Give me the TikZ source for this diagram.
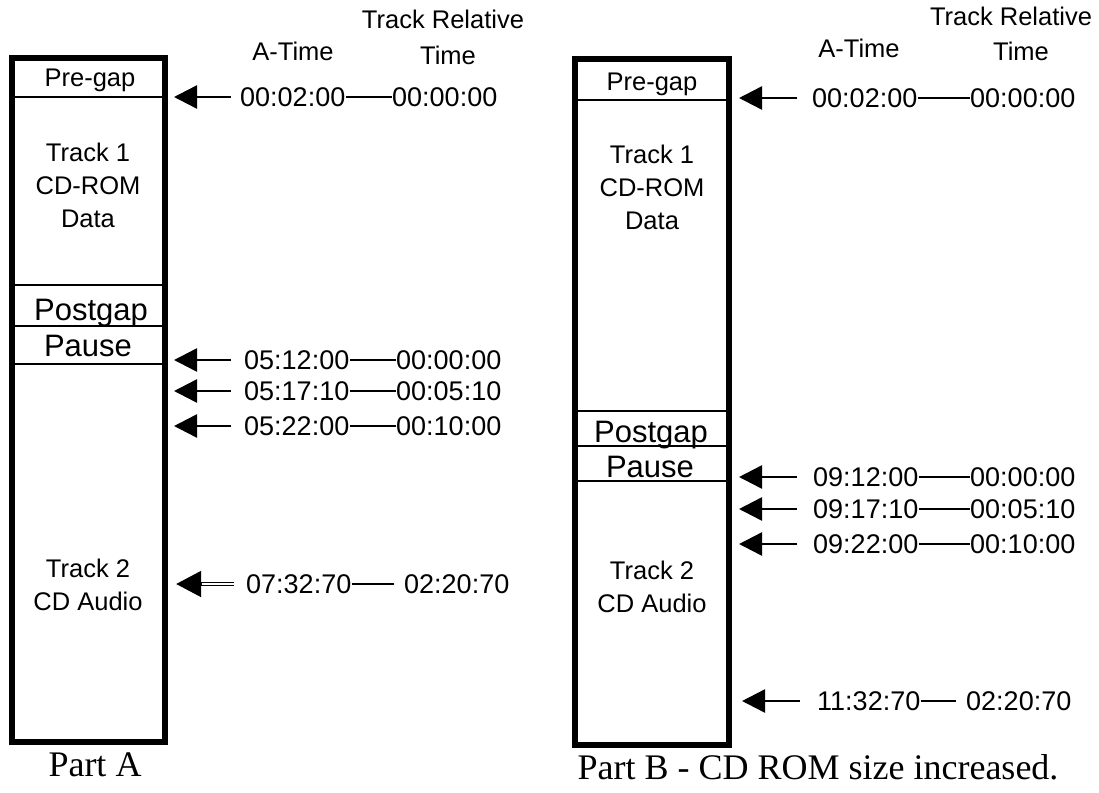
\documentclass[tikz,border=0pt]{standalone}
\usepackage{fontspec}
\setmainfont{Liberation Serif}
\setsansfont{Liberation Sans}
\usetikzlibrary{arrows.meta}
\tikzset{
  boxborder/.style={line width=5.5pt},
  divider/.style={line width=2pt},
  ptr/.style={line width=2.5pt,-{Triangle[length=23pt,width=23pt]}},
  link/.style={line width=2pt},
  tc/.style={font=\sffamily\fontsize{27}{27}\selectfont,inner sep=0pt,anchor=west},
  hdr/.style={font=\sffamily\fontsize{25.5}{30}\selectfont,inner sep=0pt,anchor=base},
  lbl/.style={font=\sffamily\fontsize{25.5}{33}\selectfont,inner sep=0pt,anchor=base,align=center},
  biglbl/.style={font=\sffamily\fontsize{31}{31}\selectfont,inner sep=0pt,anchor=base},
  captiontxt/.style={font=\rmfamily\fontsize{36}{36}\selectfont,inner sep=0pt,anchor=base}
}
\begin{document}
\begin{tikzpicture}[x=1pt,y=-1pt]
\useasboundingbox (0,0) rectangle (1099,792);
% ---------- Part A ----------
\draw[divider] (12,97) -- (165,97);
\draw[divider] (12,285) -- (165,285);
\draw[divider] (12,326) -- (162,326);
\draw[divider] (12,364) -- (165,364);
\draw[boxborder] (12,58) rectangle (165,742);
\node[lbl] (apre) at (90,86) {Pre-gap};
\node[lbl,anchor=north] (at1) at (88,143) {Track 1\\CD-ROM\\Data};
\node[biglbl] (apost) at (91,320) {Postgap};
\node[biglbl] (apause) at (88,356) {Pause};
\node[lbl,anchor=north] (at2) at (88,559) {Track 2\\CD Audio};
\node[captiontxt] (capA) at (95,776) {Part A};
\node[hdr] (ahA) at (293,60) {A-Time};
\node[hdr] (ahT1) at (443,29) {Track Relative};
\node[hdr] (ahT2) at (448,64) {Time};
% rows
\foreach \nm/\y/\xa/\xb/\ta/\tb in {r1/97/240/392/00:02:00/00:00:00,
    r2/360/244/396/05:12:00/00:00:00, r3/391/244/396/05:17:10/00:05:10,
    r4/426/244/396/05:22:00/00:10:00}{
  \coordinate (a\nm tail) at (231,\y);
  \coordinate (a\nm tip) at (174,\y);
  \node[tc] (a\nm a) at (\xa,\y) {\ta};
  \node[tc] (a\nm b) at (\xb,\y) {\tb};
  \draw[ptr] (a\nm tail) -- (a\nm tip);
  \draw[link] (a\nm a.east) -- (a\nm b.west);
}
\coordinate (ar5tail) at (234,584);
\coordinate (ar5tip) at (176,584);
\node[tc] (ar5a) at (246,584) {07:32:70};
\node[tc] (ar5b) at (404,584) {02:20:70};
\draw[ptr,line width=4.5pt,-{Triangle[length=25pt,width=25pt]}] (ar5tail) -- (ar5tip);
\draw[white,line width=1.2pt] (ar5tail) -- ([xshift=26pt]ar5tip);
\draw[link] (ar5a.east) -- ([xshift=-10pt]ar5b.west);
% ---------- Part B ----------
\draw[divider] (575,100) -- (729,100);
\draw[divider] (575,411) -- (729,411);
\draw[divider] (575,446) -- (729,446);
\draw[divider] (575,481) -- (729,481);
\draw[boxborder] (575,59) rectangle (729,745);
\node[lbl] (bpre) at (652,90) {Pre-gap};
\node[lbl,anchor=north] (bt1) at (652,145) {Track 1\\CD-ROM\\Data};
\node[biglbl] (bpost) at (651,442) {Postgap};
\node[biglbl] (bpause) at (650,477) {Pause};
\node[lbl,anchor=north] (bt2) at (652,561) {Track 2\\CD Audio};
\node[captiontxt] (capB) at (818,779) {Part B - CD ROM size increased.};
\node[hdr] (bhA) at (859,57) {A-Time};
\node[hdr] (bhT1) at (1011,26) {Track Relative};
\node[hdr] (bhT2) at (1021,60) {Time};
\foreach \nm/\y/\xa/\xb/\ta/\tb in {r1/98/812/970/00:02:00/00:00:00,
    r2/477/813/970/09:12:00/00:00:00, r3/509/813/970/09:17:10/00:05:10,
    r4/544/813/970/09:22:00/00:10:00}{
  \coordinate (b\nm tail) at (797,\y);
  \coordinate (b\nm tip) at (739,\y);
  \node[tc] (b\nm a) at (\xa,\y) {\ta};
  \node[tc] (b\nm b) at (\xb,\y) {\tb};
  \draw[ptr] (b\nm tail) -- (b\nm tip);
  \draw[link] (b\nm a.east) -- (b\nm b.west);
}
\coordinate (br5tail) at (800,701);
\coordinate (br5tip) at (742,701);
\node[tc] (br5a) at (817,701) {11:32:70};
\node[tc] (br5b) at (966,701) {02:20:70};
\draw[ptr] (br5tail) -- (br5tip);
\draw[link] (br5a.east) -- ([xshift=-10pt]br5b.west);
\end{tikzpicture}
\end{document}
